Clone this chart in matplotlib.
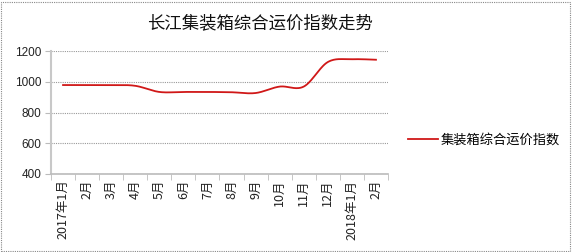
import numpy as np
import matplotlib
matplotlib.use("Agg")
import matplotlib.pyplot as plt
from matplotlib.patches import Rectangle

plt.rcParams['font.family'] = ['Noto Sans CJK SC', 'DejaVu Sans']

months = ['2017年1月', '2月', '3月', '4月', '5月', '6月', '7月', '8月', '9月',
          '10月', '11月', '12月', '2018年1月', '2月']
index_values = [980, 980, 980, 975, 935, 935, 935, 933, 928, 970, 970, 1130, 1148, 1145]
series_name = '集装箱综合运价指数'
title = '长江集装箱综合运价指数走势'
y_ticks = [400, 600, 800, 1000, 1200]


def smooth_curve(xs, ys, steps=30):
    """Excel-style smoothed line: cubic Bezier segments with Catmull-Rom control points."""
    xs = np.asarray(xs, float)
    ys = np.asarray(ys, float)
    n = len(xs)
    out_x, out_y = [], []
    t = np.linspace(0, 1, steps)
    for i in range(n - 1):
        p0 = np.array([xs[max(i - 1, 0)], ys[max(i - 1, 0)]])
        p1 = np.array([xs[i], ys[i]])
        p2 = np.array([xs[i + 1], ys[i + 1]])
        p3 = np.array([xs[min(i + 2, n - 1)], ys[min(i + 2, n - 1)]])
        c1 = p1 + (p2 - p0) / 6
        c2 = p2 - (p3 - p1) / 6
        pts = ((1 - t) ** 3)[:, None] * p1 + (3 * (1 - t) ** 2 * t)[:, None] * c1 \
            + (3 * (1 - t) * t ** 2)[:, None] * c2 + (t ** 3)[:, None] * p2
        out_x.extend(pts[:, 0])
        out_y.extend(pts[:, 1])
    return np.array(out_x), np.array(out_y)


fig = plt.figure(figsize=(5.72, 2.52), dpi=100)
ax = fig.add_axes([51 / 572, 1 - 174 / 252, 337 / 572, (174 - 51.3) / 252])

x = np.arange(len(months))
sx, sy = smooth_curve(x, index_values)
ax.plot(sx, sy, color='#d01818', linewidth=1.3, label=series_name)

ax.set_xlim(-0.5, len(months) - 0.5)
ax.set_ylim(400, 1200)
ax.set_yticks(y_ticks)
ax.set_yticklabels([str(v) for v in y_ticks], fontsize=8.5, color='#222222',
                   family=['Liberation Sans', 'DejaVu Sans'])
ax.yaxis.grid(True, color='#999999', linestyle=(0, (1, 1)), linewidth=0.8)
ax.set_axisbelow(True)

ax.set_xticks(x)
ax.set_xticklabels(months, rotation=90, fontsize=9, color='#222222')
ax.tick_params(axis='x', which='major', length=0, pad=4)
ax.set_xticks(np.arange(-0.5, len(months), 1), minor=True)
ax.tick_params(axis='x', which='minor', length=4, color='#bbbbbb', direction='out')
ax.tick_params(axis='y', length=4, color='#bbbbbb', pad=3)

for side in ['top', 'right']:
    ax.spines[side].set_visible(False)
ax.spines['left'].set_color('#c8c8c8')
ax.spines['left'].set_linewidth(1.5)
ax.spines['bottom'].set_color('#bbbbbb')
ax.spines['bottom'].set_linestyle((0, (1, 1)))
ax.spines['bottom'].set_linewidth(1.2)

fig.text(260 / 572, 1 - 23 / 252, title, ha='center', va='center', fontsize=12.5, color='#111111')

fig.legend(loc='center left', bbox_to_anchor=(396 / 572, 1 - 140 / 252), frameon=False,
           fontsize=9.5, handlelength=2.3, handletextpad=0.2)

fig.patches.append(Rectangle((0.002, 0.004), 0.994, 0.99, transform=fig.transFigure,
                             fill=False, edgecolor='#888888', linestyle=(0, (1, 1)), linewidth=0.8))

fig.savefig('out.png', dpi=100)
